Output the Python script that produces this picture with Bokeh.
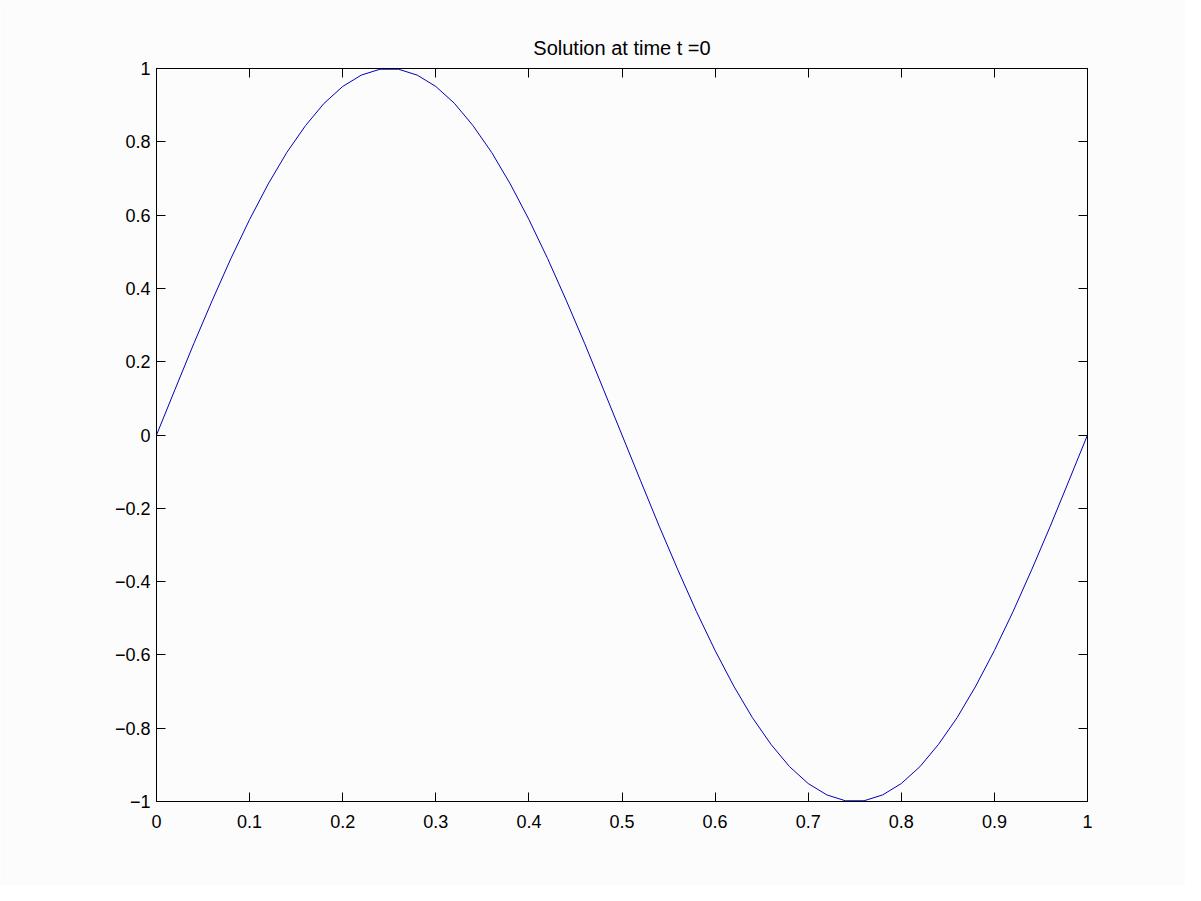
from bokeh.plotting import figure
from bokeh.models import LinearAxis, FixedTicker, Range1d
from bokeh.embed import file_html
from bokeh.resources import INLINE

# Data
x_vals = [0.00, 0.02, 0.04, 0.06, 0.08, 0.10, 0.12, 0.14, 0.16, 0.18,
          0.20, 0.22, 0.24, 0.26, 0.28, 0.30, 0.32, 0.34, 0.36, 0.38,
          0.40, 0.42, 0.44, 0.46, 0.48, 0.50, 0.52, 0.54, 0.56, 0.58,
          0.60, 0.62, 0.64, 0.66, 0.68, 0.70, 0.72, 0.74, 0.76, 0.78,
          0.80, 0.82, 0.84, 0.86, 0.88, 0.90, 0.92, 0.94, 0.96, 0.98, 1.00]
y_vals = [0.000, 0.125, 0.249, 0.368, 0.482, 0.588, 0.685, 0.771, 0.844, 0.905,
          0.951, 0.982, 0.998, 0.998, 0.982, 0.951, 0.905, 0.844, 0.771, 0.685,
          0.588, 0.482, 0.368, 0.249, 0.125, 0.000, -0.125, -0.249, -0.368, -0.482,
          -0.588, -0.685, -0.771, -0.844, -0.905, -0.951, -0.982, -0.998, -0.998, -0.982,
          -0.951, -0.905, -0.844, -0.771, -0.685, -0.588, -0.482, -0.368, -0.249, -0.125, 0.000]

x_ticks = [0, 0.1, 0.2, 0.3, 0.4, 0.5, 0.6, 0.7, 0.8, 0.9, 1]
x_tick_labels = ["0", "0.1", "0.2", "0.3", "0.4", "0.5", "0.6", "0.7", "0.8", "0.9", "1"]
y_ticks = [-1, -0.8, -0.6, -0.4, -0.2, 0, 0.2, 0.4, 0.6, 0.8, 1]
y_tick_labels = ["\u22121", "\u22120.8", "\u22120.6", "\u22120.4", "\u22120.2", "0",
                 "0.2", "0.4", "0.6", "0.8", "1"]
title_text = "Solution at time t =0"

FONT = "Liberation Sans"

p = figure(width=1185, height=885, output_backend="svg", toolbar_location=None,
           x_range=Range1d(0, 1), y_range=Range1d(-1, 1),
           x_axis_location=None, y_axis_location=None,
           min_border_left=156, min_border_right=98,
           min_border_top=68, min_border_bottom=84,
           background_fill_color="#fcfcfc", border_fill_color="#fcfcfc",
           outline_line_color="black", outline_line_width=1)
p.title.text = title_text
p.title.align = "center"
p.title.text_font = FONT
p.title.text_font_size = "20px"
p.title.text_font_style = "normal"
p.title.text_color = "black"
p.title.standoff = 19
p.grid.visible = False

def make_axis(ticks, labels, show_labels, standoff):
    ax = LinearAxis(ticker=FixedTicker(ticks=ticks))
    ax.major_label_overrides = {t: l for t, l in zip(ticks, labels)}
    ax.major_tick_in = 9
    ax.major_tick_out = 0
    ax.minor_tick_in = 0
    ax.minor_tick_out = 0
    ax.axis_line_color = "black"
    ax.major_tick_line_color = "black"
    ax.major_label_text_font = FONT
    ax.major_label_text_font_size = "18px"
    ax.major_label_text_color = "black"
    ax.major_label_standoff = standoff
    if not show_labels:
        ax.major_label_text_alpha = 0
        ax.major_label_text_font_size = "1px"
        ax.major_label_standoff = 0
    return ax

p.add_layout(make_axis(x_ticks, x_tick_labels, True, 13), "below")
p.add_layout(make_axis(x_ticks, x_tick_labels, False, 0), "above")
p.add_layout(make_axis(y_ticks, y_tick_labels, True, 6), "left")
p.add_layout(make_axis(y_ticks, y_tick_labels, False, 0), "right")

p.line(x_vals, y_vals, line_color="#0000b4", line_width=1)

open("out.html", "w").write(file_html(p, INLINE))
